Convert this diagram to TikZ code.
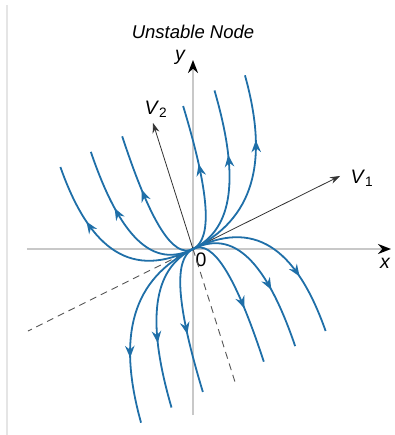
\documentclass[tikz,border=0pt]{standalone}
\usepackage{fontspec}
\setmainfont{Liberation Sans}
\usetikzlibrary{arrows.meta, decorations.markings}

\definecolor{trajblue}{RGB}{31,111,168}
\definecolor{axisgrey}{RGB}{200,200,200}
\definecolor{dashgrey}{RGB}{85,85,85}

\tikzset{
  traj/.style={trajblue, line width=1.8pt, postaction={decorate},
    decoration={markings, mark=at position #1 with {\arrow{Stealth[length=12pt,width=9.5pt,inset=4pt]}}}},
  axis/.style={axisgrey, line width=2.2pt, -{Stealth[length=13pt,width=10pt,black]}},
  eigvec/.style={black!80, line width=0.8pt, -{Stealth[length=10pt,width=7pt]}},
  eigext/.style={dashgrey, line width=0.9pt, dash pattern=on 7pt off 5pt},
  lbl/.style={font=\fontsize{19.5}{22}\selectfont},
}

\begin{document}
\begin{tikzpicture}[x=1pt,y=1pt]
    \useasboundingbox (-193,-186) rectangle (201,249);

    % --- Frame line on the left ---
    \draw[black!10, line width=1.5pt] (-186,244) -- (-186,-186);

    % --- Title ---
    \node[font=\fontsize{18.5}{22}\selectfont\itshape] (title) at (0,217) {Unstable Node};

    % --- Axes ---
    \coordinate (O) at (0,0);
    \coordinate (xtail) at (-166,0);
    \coordinate (xtip) at (198,0);
    \coordinate (ytail) at (0,-166);
    \coordinate (ytip) at (0,189);
    \draw[axis] (xtail) -- (xtip);
    \draw[axis] (ytail) -- (ytip);
    \node[lbl, font=\fontsize{19.5}{22}\selectfont\itshape] (xlab) at (192,-14) {x};
    \node[lbl, font=\fontsize{19.5}{22}\selectfont\itshape] (ylab) at (-13,192) {y};
    \node[lbl] (zero) at (8,-11) {0};

    % --- Eigenvectors (dashed: opposite directions) ---
    \coordinate (v1tip) at (147,73);
    \coordinate (v2tip) at (-40,126);
    \coordinate (v1back) at (-165,-82);
    \coordinate (v2back) at (42,-133);
    \draw[eigext] (O) -- (v1back);
    \draw[eigext] (O) -- (v2back);
    \draw[eigvec] (O) -- (v1tip);
    \draw[eigvec] (O) -- (v2tip);
    \node[lbl] (v1lab) at (169,71) {\textit{V}\textsubscript{1}};
    \node[lbl] (v2lab) at (-37,140) {\textit{V}\textsubscript{2}};

    % --- Trajectories (drawn in V1/V2 coordinates) ---
    \foreach \r in {0,180}{
      \begin{scope}[rotate=\r, x={(0.896pt,0.445pt)}, y={(-0.301pt,0.954pt)}]
        \foreach \U/\p in {34/0.6, 69/0.62, 103/0.67}{
          \foreach \s in {1,-1}{
            \draw[traj=\p] (0,0) .. controls ({0.65*\U},0) and ({0.97*\U},{\s*43}) .. (\U,{\s*134});
          }
        }
      \end{scope}
    }

\end{tikzpicture}
\end{document}
